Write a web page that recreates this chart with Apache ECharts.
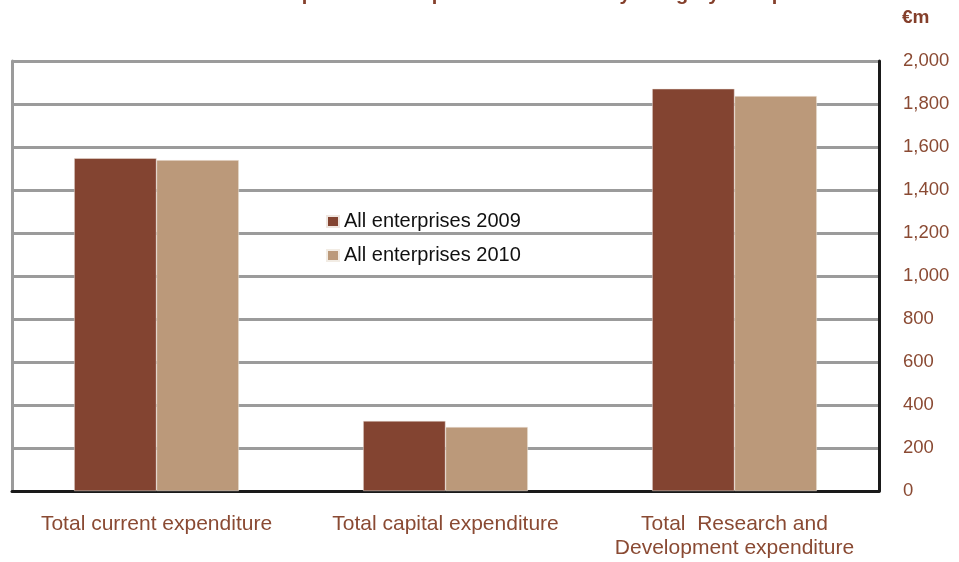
<!DOCTYPE html>
<html>
<head>
<meta charset="utf-8">
<script src="https://cdn.jsdelivr.net/npm/echarts@6/dist/echarts.min.js"></script>
<style>html,body{margin:0;padding:0;background:#fff}#c{width:959px;height:562px}</style>
</head>
<body>
<div id="c"></div>
<script>
var categories = ['Total current expenditure', 'Total capital expenditure', 'Total  Research and\nDevelopment expenditure'];
var seriesNames = ['All enterprises 2009', 'All enterprises 2010'];
var values2009 = [1548, 326, 1871];
var values2010 = [1539, 298, 1837];
var yTicks = [0, 200, 400, 600, 800, 1000, 1200, 1400, 1600, 1800, 2000];

var brown = '#8a4a33';
var chart = echarts.init(document.getElementById('c'));
chart.setOption({
  animation: false,
  backgroundColor: '#fff',
  textStyle: { fontFamily: 'Liberation Sans, Arial, sans-serif' },
  grid: { left: 12, right: 80, top: 61, bottom: 71 },
  graphic: [
    { type: 'text', x: 560, y: -6,
      style: { text: 'Composition of expenditure on R&D by category of expenditure', fill: '#843f2b',
        font: 'bold 20px Liberation Sans, Arial, sans-serif', textAlign: 'center', textVerticalAlign: 'middle' } },
    { type: 'text', x: 902, y: 18,
      style: { text: '€m', fill: '#843f2b', font: 'bold 19px Liberation Sans, Arial, sans-serif', textVerticalAlign: 'middle' } }
  ],
  legend: {
    orient: 'vertical', left: 321, top: 206,
    itemWidth: 12, itemHeight: 11, itemGap: 13, icon: 'rect',
    textStyle: { color: '#111', fontSize: 20, lineHeight: 21 },
    data: seriesNames
  },
  xAxis: {
    type: 'category', data: categories,
    axisLine: { lineStyle: { color: '#1a1a1a', width: 3 } },
    axisTick: { show: false },
    axisLabel: { color: brown, fontSize: 21, margin: 21, lineHeight: 24, interval: 0 }
  },
  yAxis: [{
    type: 'value', position: 'right', min: 0, max: 2000, interval: 200,
    axisLine: { show: true, lineStyle: { color: '#1a1a1a', width: 3 } },
    axisTick: { show: false },
    axisLabel: { color: brown, fontSize: 18.5, margin: 24,
      formatter: function (v) { return yTicks.indexOf(v) >= 0 ? v.toLocaleString('en-US') : ''; } },
    splitLine: { lineStyle: { color: '#9b9b9b', width: 3 } }
  }, {
    type: 'value', position: 'left', min: 0, max: 2000, interval: 200,
    axisLine: { show: true, lineStyle: { color: '#9b9b9b', width: 3 } },
    axisTick: { show: false }, axisLabel: { show: false }, splitLine: { show: false }
  }],
  series: [
    { name: seriesNames[0], type: 'bar', data: values2009, barGap: 0, barCategoryGap: '43%',
      itemStyle: { color: '#834431', borderColor: '#efe6e0', borderWidth: 0.5 } },
    { name: seriesNames[1], type: 'bar', data: values2010, barGap: 0, barCategoryGap: '43%',
      itemStyle: { color: '#bb997a', borderColor: '#f2ece4', borderWidth: 0.5 } }
  ]
});
</script>
</body>
</html>
